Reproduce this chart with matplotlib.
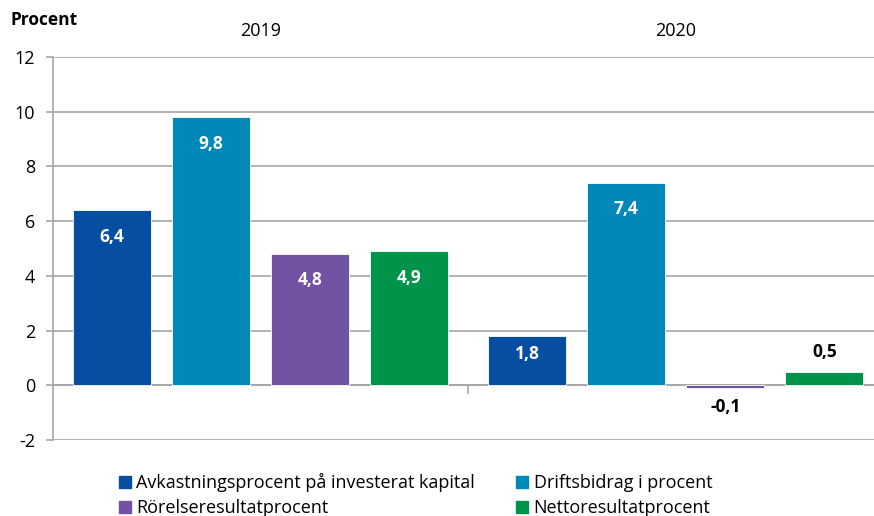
import matplotlib
matplotlib.use("Agg")
import matplotlib.pyplot as plt
import numpy as np
from matplotlib.patches import Patch

years = ["2019", "2020"]
series = ["Avkastningsprocent på investerat kapital", "Driftsbidrag i procent",
          "Rörelseresultatprocent", "Nettoresultatprocent"]
values = {
    "Avkastningsprocent på investerat kapital": [6.4, 1.8],
    "Driftsbidrag i procent": [9.8, 7.4],
    "Rörelseresultatprocent": [4.8, -0.1],
    "Nettoresultatprocent": [4.9, 0.5],
}
colors = ["#064EA2", "#0089B8", "#7152A3", "#00944A"]
yticks = [-2, 0, 2, 4, 6, 8, 10, 12]

plt.rcParams['font.family'] = ['Open Sans', 'DejaVu Sans']

fig = plt.figure(figsize=(8.74, 5.16), dpi=100)
ax = fig.add_axes([53/874, 1 - 440/516, 830/874, (440-57)/516])

x = np.arange(len(years))
offsets = [-0.358, -0.119, 0.12, 0.359]
bw = 0.188
for i, s in enumerate(series):
    vals = values[s]
    ax.bar(x + offsets[i], vals, width=bw, color=colors[i], zorder=3,
           edgecolor='white', linewidth=0.6)
    for xi, v in zip(x + offsets[i], vals):
        lab = f"{v:.1f}".replace('.', ',')
        if v >= 2.5:
            dy, col = -19, 'white'
        elif v >= 1.0:
            dy, col = -13, 'white'
        elif v >= 0:
            dy, col = 14, 'black'
        else:
            dy, col = -14, 'black'
        ax.annotate(lab, (xi, v), xytext=(0, dy), textcoords='offset points',
                    ha='center', va='center', color=col, fontsize=12.5,
                    fontweight='bold', zorder=4)

ax.set_xlim(-0.5, 1.5)
ax.set_ylim(-2, 12)
ax.set_yticks(yticks)
ax.set_yticklabels([str(t) for t in yticks], fontsize=13)
ax.yaxis.grid(True, color='#A6A6A6', linewidth=1.2, zorder=0)
ax.tick_params(axis='y', length=5, color='#A6A6A6', width=1.2, pad=8)
ax.set_xticks([])
for sp in ['top', 'right', 'bottom']:
    ax.spines[sp].set_visible(False)
ax.spines['left'].set_color('#A6A6A6')
ax.spines['left'].set_linewidth(1.2)
ax.axhline(0, color='#A6A6A6', linewidth=1.2, zorder=2)
ax.plot([0.5, 0.5], [0, -0.3], color='#A6A6A6', linewidth=1.2, zorder=2, clip_on=False)

for xi, y in zip(x, years):
    ax.text(xi, 12.95, y, ha='center', va='center', fontsize=13)

fig.text(10/874, 1 - 20/516, "Procent", fontsize=12.5, fontweight='bold', ha='left', va='center')

order = [0, 2, 1, 3]
handles = [Patch(color=colors[k]) for k in order]
labels = [series[k] for k in order]
fig.legend(handles, labels, ncol=2, loc='upper left', bbox_to_anchor=(110/874, 1 - 464/516),
           frameon=False, fontsize=13, handlelength=0.65, handleheight=0.65,
           handletextpad=0.3, columnspacing=2.3, labelspacing=0.4, borderpad=0)

fig.savefig("out.png", dpi=100)
